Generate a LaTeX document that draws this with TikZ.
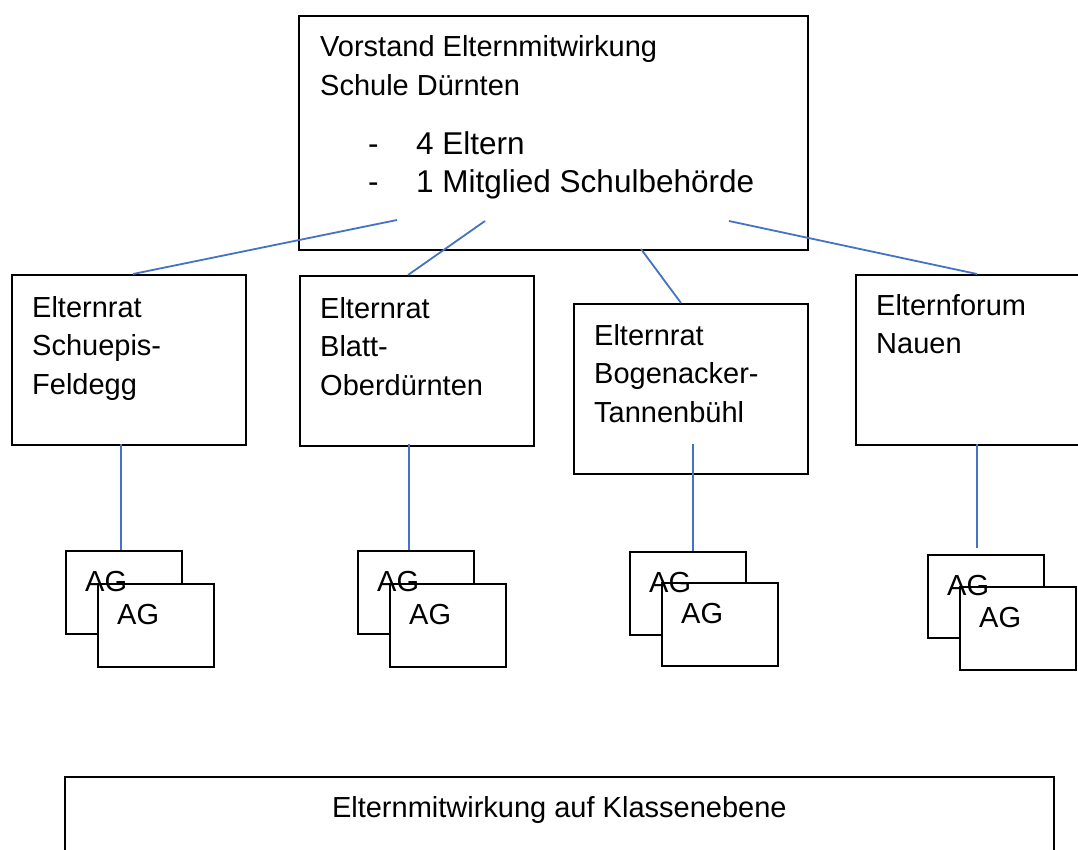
\documentclass[tikz,border=0pt]{standalone}
\usepackage{fontspec}
\setmainfont{Liberation Sans}
\usetikzlibrary{positioning}
\definecolor{linkblue}{RGB}{68,114,196}

\begin{document}
\begin{tikzpicture}[x=1pt,y=-1pt,
	box/.style={draw,line width=1.6pt,anchor=north west,inner sep=0pt,fill=white},
	unit/.style={box,minimum width=234pt,minimum height=170pt},
	agbox/.style={box,minimum width=116pt,minimum height=83pt},
	txt/.style={anchor=base west,align=left,inner sep=0pt,font=\fontsize{29}{38.5}\selectfont},
	link/.style={draw=linkblue,line width=1.8pt}]
	\useasboundingbox (0,0) rectangle (1078,850);
	\clip (0,0) rectangle (1078,850);
	% base of a multi-line node = baseline of its last line
	\node[box,minimum width=509pt,minimum height=234pt] (vorstand) at (298,15) {};
	\node[txt] (vorstandT) at ([xshift=22pt,yshift=-80.5pt]vorstand.north west) {Vorstand Elternmitwirkung\\Schule Dürnten};
	\node[txt,font=\fontsize{31.5}{38}\selectfont] (mitglieder) at ([xshift=70pt,yshift=-178pt]vorstand.north west) {\makebox[48pt][l]{-}4 Eltern\\\makebox[48pt][l]{-}1 Mitglied Schulbehörde};
	%
	\node[unit] (schuepis) at (11,274) {};
	\node[unit] (blatt) at (299,275) {};
	\node[unit] (bogen) at (573,303) {};
	\node[unit] (nauen) at (855,274) {};
	\node[txt] (schuepisT) at ([xshift=21pt,yshift=-120pt]schuepis.north west) {Elternrat\\Schuepis-\\Feldegg};
	\node[txt] (blattT) at ([xshift=21pt,yshift=-120pt]blatt.north west) {Elternrat\\Blatt-\\Oberdürnten};
	\node[txt] (bogenT) at ([xshift=21pt,yshift=-119pt]bogen.north west) {Elternrat\\Bogenacker-\\Tannenbühl};
	\node[txt] (nauenT) at ([xshift=21pt,yshift=-79.5pt]nauen.north west) {Elternforum\\Nauen};
	%
	\node[agbox] (agA1) at (65,550) {};
	\node[agbox] (agA2) at (97,583) {};
	\node[agbox] (agB1) at (357,550) {};
	\node[agbox] (agB2) at (389,583) {};
	\node[agbox] (agC1) at (629,551) {};
	\node[agbox] (agC2) at (661,582) {};
	\node[agbox] (agD1) at (927,554) {};
	\node[agbox] (agD2) at (959,586) {};
	\foreach \g in {agA1,agA2,agB1,agB2,agC1,agC2,agD1,agD2}
		\node[txt] (\g T) at ([xshift=20pt,yshift=-41pt]\g.north west) {AG};
	%
	\node[box,minimum width=989pt,minimum height=120pt] (klassen) at (64,776) {};
	\node[txt,anchor=base] (klassenT) at ([yshift=-41pt]klassen.north) {Elternmitwirkung auf Klassenebene};
	%
	\coordinate (vA) at (397,220);
	\coordinate (vB) at (485,221);
	\coordinate (vC) at (641,249);
	\coordinate (vD) at (729,221);
	\coordinate (sA) at (121,444);
	\coordinate (sB) at (409,444);
	\coordinate (sC) at (693,444);
	\coordinate (sD) at (977,444);
	\coordinate (eD) at (977,548);
	%
	\path[link]
	(vA) edge ([xshift=122pt]schuepis.north west)
	(vB) edge ([xshift=109pt]blatt.north west)
	(vC) edge ([xshift=108pt]bogen.north west)
	(vD) edge ([xshift=122pt]nauen.north west)
	(sA) edge (sA |- agA1.north)
	(sB) edge (sB |- agB1.north)
	(sC) edge (sC |- agC1.north)
	(sD) edge (eD);
\end{tikzpicture}
\end{document}
